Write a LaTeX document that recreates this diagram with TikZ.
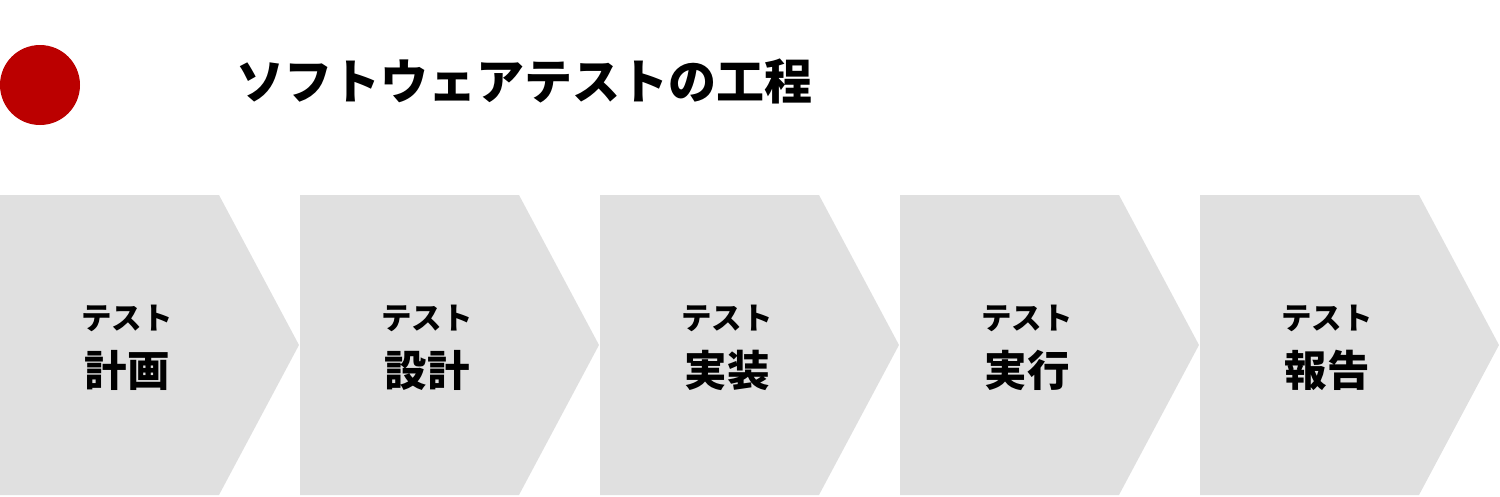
\documentclass[tikz,border=0pt]{standalone}
\usepackage{fontspec}
\newfontfamily\jpfont{Noto Sans CJK JP}
\definecolor{dotred}{HTML}{BB0000}
\definecolor{stepgray}{HTML}{E0E0E0}
\tikzset{
  steptext/.style={font=\jpfont\bfseries\fontsize{30.5}{36}\selectfont, inner sep=0pt},
  stepname/.style={font=\jpfont\bfseries\fontsize{42.5}{50}\selectfont, inner sep=0pt},
}
\begin{document}
\begin{tikzpicture}[x=1pt,y=-1pt]
            \useasboundingbox (0,0) rectangle (1500,496);

            \fill [dotred] (40,85) circle (40);
            \node [anchor=west, inner sep=0pt, font=\jpfont\bfseries\fontsize{48}{56}\selectfont] (title) at (236,81) {ソフトウェアテストの工程};

            \foreach \lab [count=\i from 0] in {計画,設計,実装,実行,報告} {
                \fill [stepgray] (300*\i,195) -- (300*\i+219,195) -- (300*\i+299,345)
                    -- (300*\i+219,495) -- (300*\i,495) -- cycle;
                \node [steptext] (top\i) at (300*\i+127,318) {テスト};
                \node [stepname] (name\i) at (300*\i+127,370) {\lab};
            }
        \end{tikzpicture}
\end{document}
